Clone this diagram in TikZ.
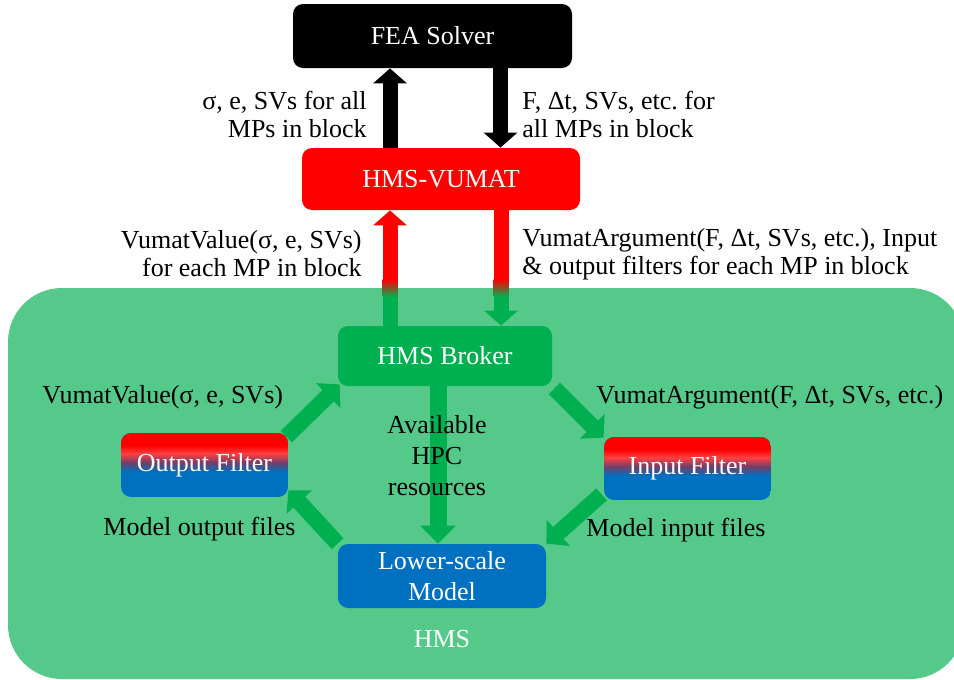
\documentclass[tikz,border=0pt]{standalone}
\usepackage{fontspec}
\setmainfont{Liberation Serif}
\frenchspacing
\usetikzlibrary{arrows.meta,calc}
\definecolor{hmsbg}{RGB}{84,201,138}
\definecolor{hmsgreen}{RGB}{0,176,80}
\definecolor{hmsblue}{RGB}{0,112,192}
\colorlet{mauve}{red!45!hmsblue}
\colorlet{pinkred}{red!75!white}
\newcommand{\lblfont}{\fontsize{13pt}{14pt}\selectfont}
\newcommand{\widefont}{\fontsize{13pt}{15.5pt}\selectfont}
% #1 from colour, #2 to colour, #3 x1, #4 x2, #5 y-start, #6 y-end (px), #7 steps
\newcommand{\gband}[7]{%
  \foreach \ii in {1,...,#7} {
    \pgfmathsetmacro{\yya}{(#5)+((#6)-(#5))*(\ii-1)/#7}
    \pgfmathsetmacro{\yyb}{(#5)+((#6)-(#5))*\ii/#7+0.4}
    \pgfmathtruncatemacro{\pp}{100*(\ii-0.5)/#7}
    \fill[#2!\pp!#1] (#3,\yya) rectangle (#4,\yyb);
  }}
% filter background: x1, y1 (top), x2, y2 (bottom) in px
\newcommand{\filterbg}[4]{%
  \begin{scope}
    \clip[rounded corners=5pt] (#1,#2) rectangle (#3,#4);
    \fill[hmsblue] (#1,#2) rectangle (#3,#4);
    \pgfmathsetmacro{\ya}{#2+13.4}
    \fill[red] (#1,#2) rectangle (#3,\ya);
    \gband{red}{pinkred}{#1}{#3}{#2+13}{#2+21}{8}
    \gband{pinkred}{mauve}{#1}{#3}{#2+21}{#2+30}{9}
    \gband{mauve}{hmsblue}{#1}{#3}{#2+30}{#2+39}{9}
  \end{scope}}
\tikzset{
  box/.style={rounded corners=5pt, inner sep=0pt, text=white, font=\lblfont, align=center},
  lbl/.style={inner sep=0pt, font=\lblfont, text=black},
  bigarrow/.style={line width=7.5pt, -{Triangle[width=16.5pt,length=7.5pt]}},
  diagarrow/.style={hmsgreen, line width=8pt, -{Triangle[width=17pt,length=8pt]}},
  midarrow/.style={hmsgreen, line width=8.5pt, -{Triangle[width=17.5pt,length=9pt]}},
}
\begin{document}
\begin{tikzpicture}[x=0.5pt,y=-0.5pt]
\useasboundingbox (0,0) rectangle (954,680);
\clip (0,0) rectangle (954,680);
\fill[white] (0,0) rectangle (954,680);
% HMS region
\node[fill=hmsbg, rounded corners=27pt, minimum width=478pt, minimum height=195.5pt, inner sep=0pt] (hms) at (486,483.5) {};
\node[lbl, text=white] (hmslabel) at (442,639) {HMS};
% filter gradients
\filterbg{121}{433}{288}{497}
\filterbg{604}{437}{771}{500}
% boxes
\node[box, fill=black, minimum width=139.5pt, minimum height=32pt] (fea) at (432.5,36) {FEA Solver};
\node[box, fill=red, minimum width=139pt, minimum height=31pt] (vumat) at (441,179) {HMS-VUMAT};
\node[box, fill=hmsgreen, minimum width=107pt, minimum height=30pt] (broker) at (445,356) {HMS Broker};
\node[box, minimum width=83.5pt, minimum height=32pt] (outf) at (204.5,465) {Output Filter};
\node[box, minimum width=83.5pt, minimum height=31.5pt] (inf) at (687.5,468.5) {Input Filter};
\node[box, font=\widefont, fill=hmsblue, minimum width=104pt, minimum height=32pt] (lower) at (442,576) {Lower-scale\\Model};
% black arrows
\coordinate (bu) at ([xshift=-21.25pt]fea.south);
\coordinate (bd) at ([xshift=34pt]fea.south);
\draw[bigarrow, black] (bu |- vumat.north) -- (bu);
\draw[bigarrow, black] (bd) -- (bd |- vumat.north);
% red-green arrows
\coordinate (ru) at ([xshift=-27.5pt]broker.north);
\coordinate (rd) at ([xshift=28pt]broker.north);
\draw[bigarrow, red] (ru) -- (ru |- vumat.south);
\fill[hmsgreen] ($(ru)+(-3.75pt,0pt)$) rectangle ($(ru |- hms.north)+(3.75pt,-4.5pt)$);
\shade[top color=red, bottom color=hmsgreen] ($(ru |- hms.north)+(-3.75pt,4pt)$) rectangle ($(ru |- hms.north)+(3.75pt,-4.6pt)$);
\draw[bigarrow, hmsgreen] (rd |- vumat.south) -- (rd);
\fill[red] ($(rd |- vumat.south)+(-3.75pt,0pt)$) rectangle ($(rd |- hms.north)+(3.75pt,4pt)$);
\shade[top color=red, bottom color=hmsgreen] ($(rd |- hms.north)+(-3.75pt,4.1pt)$) rectangle ($(rd |- hms.north)+(3.75pt,-4.5pt)$);
% green arrows
\draw[diagarrow] ([shift={(-1pt,-2pt)}]outf.north east) -- ([shift={(1pt,1pt)}]broker.south west);
\draw[diagarrow] ([shift={(1pt,-1pt)}]broker.south east) -- ([shift={(0pt,-0.5pt)}]inf.north west);
\draw[diagarrow] ([shift={(-1pt,3pt)}]inf.south west) -- (lower.north east);
\draw[diagarrow] (lower.north west) -- ([shift={(0pt,3.5pt)}]outf.south east);
\coordinate (ma) at ([xshift=-3.5pt]broker.south);
\draw[midarrow] (ma) -- (ma |- lower.north);
% labels
\node[lbl, anchor=east, align=right] (l1) at (367,114) {σ, e, SVs for all\\MPs in block};
\node[lbl, anchor=west, align=left] (l2) at (522,114) {F, Δt, SVs, etc. for\\all MPs in block};
\node[lbl, anchor=east, align=right] (l3) at (362,254) {VumatValue(σ, e, SVs)\\for each MP in block};
\node[lbl, anchor=west, align=left] (l4) at (522,254) {VumatArgument(F, Δt, SVs, etc.), Input\\\& output filters for each MP in block};
\node[lbl, anchor=west] (l5) at (42,397) {VumatValue(σ, e, SVs)};
\node[lbl, anchor=west] (l6) at (596,397) {VumatArgument(F, Δt, SVs, etc.)};
\node[lbl, font=\widefont, align=center] (l7) at (437,456) {Available\\HPC\\resources};
\node[lbl, anchor=west] (l8) at (103,529) {Model output files};
\node[lbl, anchor=west] (l9) at (586,530) {Model input files};
\end{tikzpicture}
\end{document}
